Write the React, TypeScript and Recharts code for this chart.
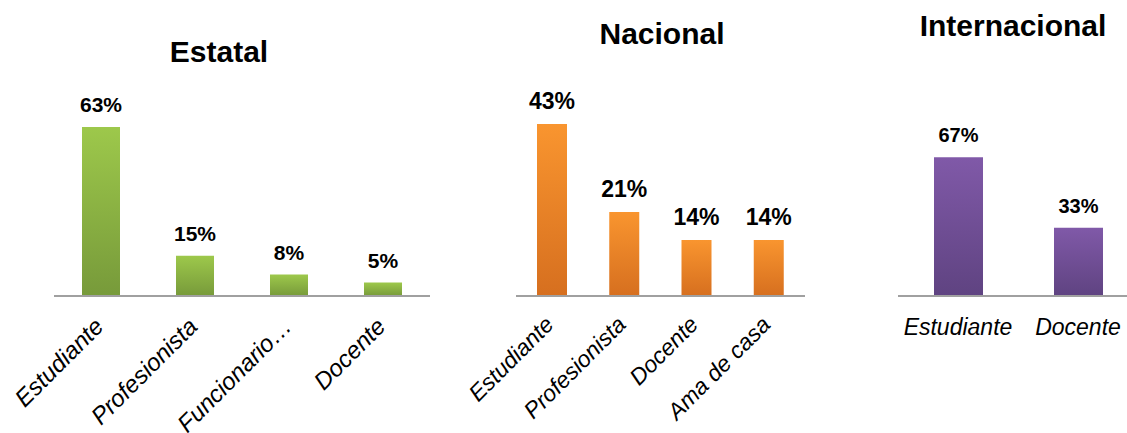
import { BarChart, Bar, XAxis, YAxis, LabelList } from 'recharts'

const estatalCats = ['Estudiante', 'Profesionista', 'Funcionario…', 'Docente']
const estatalVals = [63, 15, 8, 5]

const nacionalCats = ['Estudiante', 'Profesionista', 'Docente', 'Ama de casa']
const nacionalVals = [43, 21, 14, 14]

const internacionalCats = ['Estudiante', 'Docente']
const internacionalVals = [67, 33]

const FONT = '"Liberation Sans", Arial, sans-serif'

type PanelProps = {
    id: string
    title: string
    titleX: number
    titleY: number
    cats: string[]
    vals: number[]
    left: number
    width: number
    marginLeft: number
    marginRight: number
    domainMax: number
    barSize: number
    colors: [string, string]
    tickFont: number
    valueFont: number
    rotate: boolean
    tickDx: number
    tickDy: number
}

function Panel(p: PanelProps) {
    const data = p.cats.map((c, i) => ({ cat: c, val: p.vals[i] }))

    const renderTick = (props: any) => {
        const { x, y, payload } = props
        const tx = x + p.tickDx
        const ty = y + p.tickDy
        return (
            <text
                x={tx}
                y={ty}
                textAnchor={p.rotate ? 'end' : 'middle'}
                transform={p.rotate ? `rotate(-45 ${tx} ${ty})` : undefined}
                fontStyle="italic"
                fontSize={p.tickFont}
                fontFamily={FONT}
                fill="#000"
            >
                {payload.value}
            </text>
        )
    }

    const renderValue = (props: any) => {
        const { x, y, width, value } = props
        return (
            <text
                x={x + width / 2}
                y={y - 15}
                textAnchor="middle"
                fontWeight="bold"
                fontSize={p.valueFont}
                fontFamily={FONT}
                fill="#000"
            >
                {value}%
            </text>
        )
    }

    return (
        <div style={{ position: 'absolute', left: p.left, top: 0 }}>
            <BarChart
                width={p.width}
                height={433}
                data={data}
                margin={{ top: 60, right: p.marginRight, left: p.marginLeft, bottom: 0 }}
                style={{ overflow: 'visible' }}
            >
                <defs>
                    <linearGradient id={p.id} x1="0" y1="0" x2="0" y2="1">
                        <stop offset="0%" stopColor={p.colors[0]} />
                        <stop offset="100%" stopColor={p.colors[1]} />
                    </linearGradient>
                </defs>
                <XAxis
                    dataKey="cat"
                    height={137}
                    interval={0}
                    tickLine={false}
                    tickSize={0}
                    tickMargin={0}
                    axisLine={{ stroke: '#a0a0a0', strokeWidth: 2 }}
                    tick={renderTick}
                />
                <YAxis hide domain={[0, p.domainMax]} />
                <Bar dataKey="val" fill={`url(#${p.id})`} barSize={p.barSize} isAnimationActive={false}>
                    <LabelList dataKey="val" content={renderValue} />
                </Bar>
            </BarChart>
            <div
                style={{
                    position: 'absolute',
                    left: p.titleX - p.left - 150,
                    top: p.titleY - 26,
                    width: 300,
                    textAlign: 'center',
                    fontFamily: FONT,
                    fontWeight: 'bold',
                    fontSize: 30,
                    lineHeight: '30px',
                    color: '#000',
                }}
            >
                {p.title}
            </div>
        </div>
    )
}

export default function App() {
    return (
        <div
            style={{
                position: 'absolute',
                left: 0,
                top: 0,
                width: 1127,
                height: 433,
                overflow: 'hidden',
                background: '#fff',
            }}
        >
            <Panel
                id="gEstatal"
                title="Estatal"
                titleX={219}
                titleY={63}
                cats={estatalCats}
                vals={estatalVals}
                left={0}
                width={440}
                marginLeft={54}
                marginRight={10}
                domainMax={88}
                barSize={38}
                colors={['#9dc84b', '#779a3a']}
                tickFont={24}
                valueFont={21}
                rotate
                tickDx={4}
                tickDy={32}
            />
            <Panel
                id="gNacional"
                title="Nacional"
                titleX={662}
                titleY={45}
                cats={nacionalCats}
                vals={nacionalVals}
                left={440}
                width={380}
                marginLeft={76}
                marginRight={15}
                domainMax={59}
                barSize={30}
                colors={['#f9952f', '#d66f1f']}
                tickFont={23}
                valueFont={23}
                rotate
                tickDx={3}
                tickDy={30}
            />
            <Panel
                id="gInternacional"
                title="Internacional"
                titleX={1013}
                titleY={37}
                cats={internacionalCats}
                vals={internacionalVals}
                left={860}
                width={278}
                marginLeft={38}
                marginRight={0}
                domainMax={114}
                barSize={49}
                colors={['#8059a8', '#5f4381']}
                tickFont={23}
                valueFont={20}
                rotate={false}
                tickDx={0}
                tickDy={39}
            />
        </div>
    )
}
